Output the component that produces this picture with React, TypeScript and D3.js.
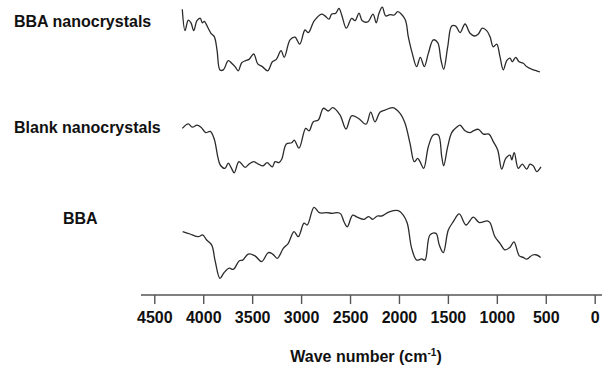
import React, { useEffect, useRef } from "react";
import * as d3 from "d3";

// wavenumbers (cm-1) and relative transmittance
const bbaNanoWave = [
  4214, 4186, 4153, 4125, 4097, 4064, 4030, 4010, 3989, 3954, 3921, 3887, 3859,
  3829, 3795, 3744, 3709, 3675, 3642, 3607, 3566, 3532, 3484, 3443, 3396, 3341,
  3294, 3253, 3205, 3172, 3113, 3062, 3014, 2960, 2926, 2865, 2790, 2756, 2715,
  2687, 2646, 2613, 2585, 2538, 2483, 2449, 2408, 2375, 2319, 2265, 2232, 2204,
  2170, 2136, 2092, 2048, 2013, 1938, 1905, 1864, 1819, 1782, 1741, 1700, 1649,
  1604, 1571, 1543, 1502, 1461, 1420, 1376, 1325, 1274, 1230, 1189, 1149, 1104,
  1070, 1036, 1001, 968, 934, 899, 865, 842, 807, 773, 730, 695, 661, 627, 593,
  559,
];
const bbaNanoT = [
  21.9, 14.8, 18.3, 17.4, 14.8, 18.1, 18.9, 17.4, 17.9, 15.9, 13.9, 12.8, 8.3,
  1.7, 1.7, 4.8, 3.9, 2.8, 1.4, 4.1, 4.8, 5.2, 7, 3.7, 2.8, 1.4, 4.4, 5.2, 8.1,
  5.9, 11.7, 12.6, 10.3, 15, 14.1, 18.1, 20.3, 19.7, 18.6, 20.3, 20.6, 22.2, 20,
  15.6, 18.9, 18.1, 20.6, 18.1, 17.7, 20.3, 17.4, 20.6, 22.6, 19.7, 20.1, 20,
  21.1, 18.6, 12.8, 7.2, 2.8, 5.9, 2.8, 7.2, 11.7, 10.8, 5, 1.9, 9.4, 16.3, 16.3,
  14.1, 17, 13.9, 13, 13.7, 15.6, 14.8, 12.8, 9.4, 10.3, 6.1, 1.7, 4.8, 5.6, 4.4,
  5.9, 4.4, 3.9, 2.8, 2.2, 1.7, 1.4, 1,
];

const blankNanoWave = [
  4214, 4153, 4112, 4064, 4023, 3975, 3928, 3887, 3852, 3826, 3778, 3744, 3716,
  3683, 3635, 3573, 3532, 3484, 3437, 3389, 3348, 3294, 3267, 3226, 3198, 3151,
  3096, 3070, 3021, 2953, 2919, 2875, 2824, 2773, 2722, 2677, 2603, 2541, 2483,
  2416, 2337, 2289, 2245, 2194, 2143, 2064, 1989, 1938, 1887, 1843, 1809, 1785,
  1747, 1700, 1649, 1598, 1563, 1543, 1502, 1461, 1410, 1376, 1325, 1274, 1240,
  1189, 1138, 1080, 1036, 991, 950, 909, 865, 848, 822, 781, 740, 695, 661, 627,
  593, 549,
];
const blankNanoT = [
  17.2, 18.7, 17.6, 18.3, 17.6, 15.8, 16.2, 13.6, 7.8, 5, 3.9, 5.6, 4.2, 2.4,
  6.1, 4.2, 5.3, 6.1, 5.3, 4.7, 5.8, 4.4, 6.1, 5.8, 6.9, 12, 12.4, 13.3, 10.6,
  17.2, 16.4, 19.4, 20, 23.9, 23, 24.1, 21.7, 17, 21.4, 20.6, 18.6, 22.6, 19.4,
  22.6, 23.3, 24.1, 22.2, 18.9, 12.2, 6.1, 7.2, 6.1, 3.9, 11.1, 15, 15, 7.8, 4.7,
  11.1, 15.8, 17.6, 18.3, 16.4, 15.8, 16.4, 16.9, 15.3, 15.3, 12.8, 10, 3.6, 7.2,
  8.3, 6.7, 9.1, 3.9, 5.3, 3.6, 5.3, 4.7, 2.8, 4.4,
];

const bbaWave = [
  4210, 4135, 4050, 4006, 3965, 3913, 3880, 3829, 3788, 3734, 3693, 3631, 3597,
  3540, 3471, 3403, 3335, 3290, 3243, 3182, 3131, 3073, 3029, 2970, 2937, 2868,
  2814, 2738, 2677, 2630, 2595, 2562, 2528, 2473, 2426, 2357, 2309, 2268, 2221,
  2176, 2099, 2007, 1956, 1915, 1870, 1819, 1768, 1734, 1683, 1622, 1588, 1547,
  1496, 1445, 1384, 1315, 1240, 1179, 1097, 1070, 1019, 968, 917, 865, 825, 770,
  730, 695, 634, 593, 552,
];
const bbaT = [
  17.8, 17, 16.1, 16.7, 15, 13.3, 8.3, 2.2, 4.1, 5.6, 5.2, 8.1, 8.3, 10.3, 9.7,
  7.8, 10.8, 10.3, 8.9, 12.2, 13.9, 17.8, 16.1, 20.6, 20, 25.9, 24.1, 24.1, 23.9,
  24.1, 23.7, 21.1, 19.4, 23.3, 22.6, 21.9, 22.8, 21.9, 23, 23, 24.4, 24.8, 23.3,
  20.6, 12.2, 8.3, 8.7, 8.3, 16.7, 17.2, 13.3, 10.8, 18.3, 21.1, 23.7, 20, 22.6,
  20.8, 21.4, 20.8, 16.1, 13.9, 11.7, 12.6, 14.4, 9.7, 9.2, 8.6, 10, 10, 9.2,
];

const seriesNames = ["BBA nanocrystals", "Blank nanocrystals", "BBA"];
const tickValues = [4500, 4000, 3500, 3000, 2500, 2000, 1500, 1000, 500, 0];

const FONT = "'Liberation Sans', Arial, Helvetica, sans-serif";

const App = () => {
  const svgRef = useRef<SVGSVGElement>(null);

  useEffect(() => {
    const width = 605;
    const height = 369;

    const svg = d3.select(svgRef.current);
    svg.selectAll("*").remove();
    svg.attr("width", width).attr("height", height);

    const x = d3.scaleLinear().domain([4500, 0]).range([154.3, 594.7]);
    const y = d3.scaleLinear().domain([0, 100]).range([300, 0]);

    const series = [
      { name: seriesNames[0], wave: bbaNanoWave, t: bbaNanoT, offset: 75, lx: 14, ly: 27 },
      { name: seriesNames[1], wave: blankNanoWave, t: blankNanoT, offset: 40, lx: 14, ly: 133 },
      { name: seriesNames[2], wave: bbaWave, t: bbaT, offset: 5, lx: 63, ly: 224 },
    ];

    const line = d3
      .line<[number, number]>()
      .curve(d3.curveCatmullRom.alpha(0.5))
      .x((d) => x(d[0]))
      .y((d) => y(d[1]));

    series.forEach((s) => {
      const pts = s.wave.map((w, i) => [w, s.t[i] + s.offset] as [number, number]);
      svg
        .append("path")
        .datum(pts)
        .attr("fill", "none")
        .attr("stroke", "#2b2b2b")
        .attr("stroke-width", 1.3)
        .attr("stroke-linejoin", "round")
        .attr("d", line);

      svg
        .append("text")
        .attr("x", s.lx)
        .attr("y", s.ly)
        .attr("font-family", FONT)
        .attr("font-weight", "bold")
        .attr("font-size", 16)
        .attr("fill", "#111")
        .text(s.name);
    });

    // x axis
    const axis = svg
      .append("g")
      .attr("transform", "translate(0,295)")
      .call(
        d3
          .axisBottom(x)
          .tickValues(tickValues)
          .tickFormat(d3.format("d"))
          .tickSize(9)
          .tickSizeOuter(0)
          .tickPadding(8)
      );
    axis.select(".domain").attr("d", "M141,0H602").attr("stroke", "#555").attr("stroke-width", 1.6);
    axis.selectAll(".tick line").attr("stroke", "#555").attr("stroke-width", 1.4);
    axis
      .selectAll(".tick text")
      .attr("font-family", FONT)
      .attr("font-weight", "bold")
      .attr("font-size", 16)
      .attr("fill", "#111");

    const title = svg
      .append("text")
      .attr("x", 366)
      .attr("y", 362)
      .attr("text-anchor", "middle")
      .attr("font-family", FONT)
      .attr("font-weight", "bold")
      .attr("font-size", 16)
      .attr("fill", "#111");
    title.append("tspan").text("Wave number (cm");
    title.append("tspan").attr("font-size", 10).attr("dy", -6).text("-1");
    title.append("tspan").attr("dy", 6).text(")");
  }, []);

  return (
    <svg
      ref={svgRef}
      style={{ position: "absolute", left: 0, top: 0, background: "#fff" }}
    ></svg>
  );
};

export default App;
